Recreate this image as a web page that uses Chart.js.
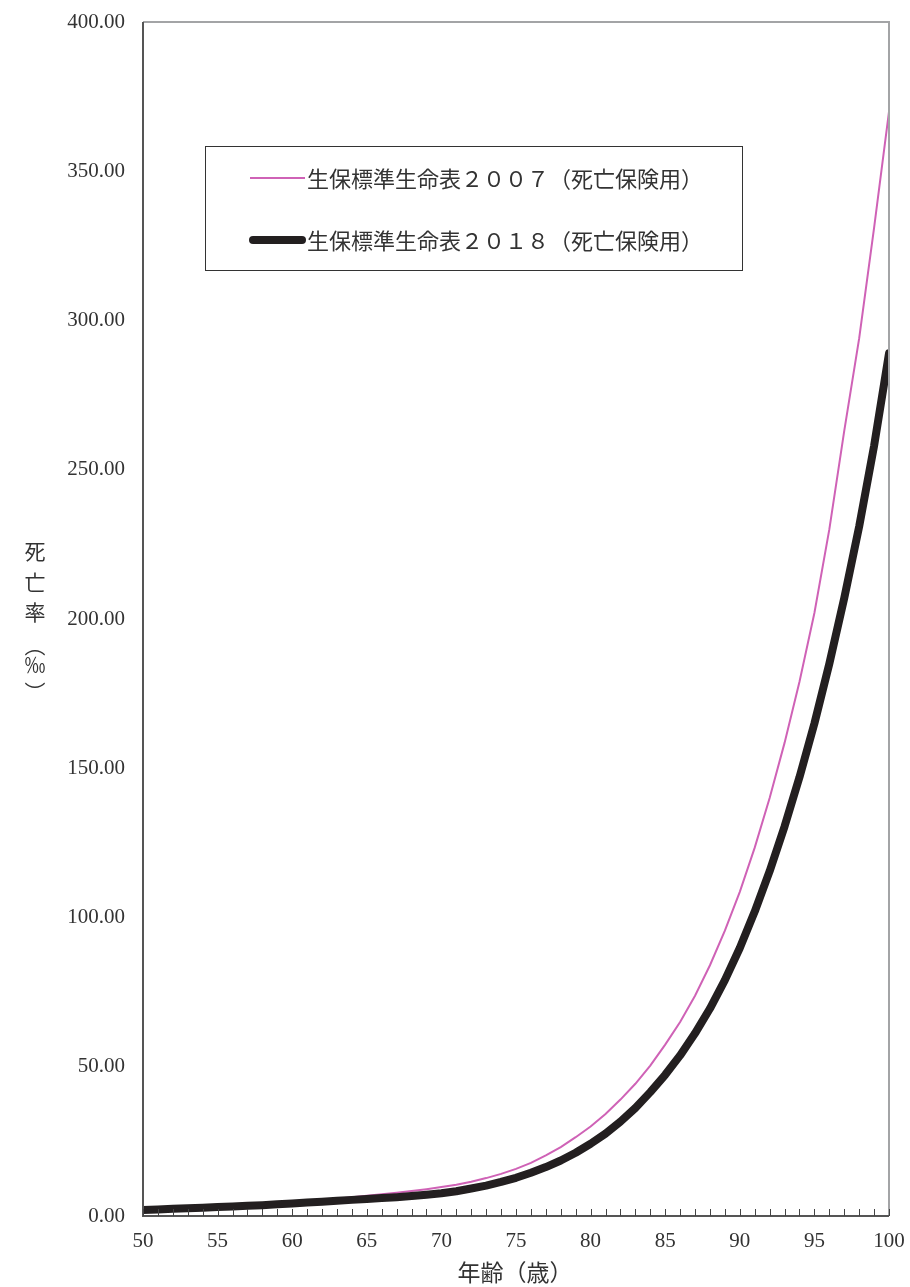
<!DOCTYPE html>
<html>
<head>
<meta charset="utf-8">
<script src="https://cdn.jsdelivr.net/npm/chart.js@4/dist/chart.umd.min.js"></script>
<style>
  html, body { margin: 0; padding: 0; background: #ffffff; }
  #wrap { width: 910px; height: 1287px; position: relative; }
</style>
</head>
<body>
<div id="wrap"><canvas id="c" width="910" height="1287"></canvas></div>
<script>
// ---- data ----
const ages = [50,51,52,53,54,55,56,57,58,59,60,61,62,63,64,65,66,67,68,69,70,
              71,72,73,74,75,76,77,78,79,80,81,82,83,84,85,86,87,88,89,90,
              91,92,93,94,95,96,97,98,99,100];
const rate2007 = [2.3,2.5,2.7,2.9,3.1,3.3,3.5,3.8,4.1,4.4,4.7,5.0,5.4,5.8,6.3,6.8,7.3,7.8,8.4,9.0,9.7,
                  10.5,11.5,12.7,14.1,15.8,17.8,20.3,23.1,26.4,30.0,34.2,39.0,44.3,50.4,57.4,65.0,73.8,84.0,95.6,108.6,
                  123.4,140.0,158.5,179.0,202.0,230.0,263.0,294.0,331.0,370.0];
const rate2018 = [2.0,2.2,2.4,2.6,2.8,3.0,3.2,3.4,3.6,3.9,4.2,4.5,4.8,5.1,5.4,5.7,6.0,6.3,6.7,7.1,7.6,
                  8.3,9.2,10.2,11.4,12.8,14.5,16.4,18.6,21.2,24.2,27.6,31.6,36.2,41.5,47.3,53.8,61.2,69.5,79.0,89.8,
                  102.0,115.5,130.5,147.0,165.0,185.0,207.0,231.0,258.0,289.0];
const seriesNames = ['生保標準生命表２００７（死亡保険用）', '生保標準生命表２０１８（死亡保険用）'];
const xTickLabels = [50,55,60,65,70,75,80,85,90,95,100];
const yTickValues = [0,50,100,150,200,250,300,350,400];
const yTitleChars = ['死','亡','率','︵','‰','︶'];
const xTitle = '年齢（歳）';

const PINK = '#cf62b6';
const BLACK = '#231f20';
const TEXT = '#333333';
const SERIF = '"Liberation Serif", "DejaVu Serif", serif';
const CJK = '"Noto Sans CJK JP", "Noto Sans", sans-serif';

const decor = {
  id: 'decor',
  afterDatasetsDraw(chart) {
    const ctx = chart.ctx;
    const a = chart.chartArea;
    const xs = chart.scales.x;
    ctx.save();
    // frame: top & right gray, left & bottom dark
    ctx.lineWidth = 2;
    ctx.strokeStyle = '#a3a4a6';
    ctx.beginPath();
    ctx.moveTo(a.left, a.top); ctx.lineTo(a.right, a.top); ctx.lineTo(a.right, a.bottom);
    ctx.stroke();
    ctx.strokeStyle = '#555555';
    ctx.beginPath();
    ctx.moveTo(a.left, a.top); ctx.lineTo(a.left, a.bottom); ctx.lineTo(a.right, a.bottom);
    ctx.stroke();
    // inner ticks on x axis, every year
    ctx.lineWidth = 1;
    ctx.strokeStyle = '#444444';
    ctx.beginPath();
    for (const t of xs.ticks) {
      const px = Math.round(xs.getPixelForValue(t.value)) + 0.5;
      ctx.moveTo(px, a.bottom);
      ctx.lineTo(px, a.bottom - 7);
    }
    ctx.stroke();

    // legend box
    ctx.strokeStyle = '#333333';
    ctx.lineWidth = 1;
    ctx.strokeRect(205.5, 146.5, 537, 124);
    ctx.font = '22px ' + CJK;
    ctx.fillStyle = TEXT;
    ctx.textBaseline = 'middle';
    ctx.textAlign = 'left';
    const ds = chart.data.datasets;
    const rows = [178, 240];
    ds.forEach((d, i) => {
      ctx.strokeStyle = d.borderColor;
      ctx.lineWidth = d.borderWidth;
      ctx.lineCap = i === 1 ? 'round' : 'butt';
      ctx.beginPath();
      ctx.moveTo(i === 1 ? 253 : 250, rows[i]);
      ctx.lineTo(i === 1 ? 302 : 305, rows[i]);
      ctx.stroke();
      ctx.fillText(d.label, 307, rows[i] + 1);
    });

    // y title (vertical stacked)
    ctx.font = '21px ' + CJK;
    ctx.textAlign = 'center';
    ctx.fillStyle = TEXT;
    const ys = [551, 582, 612, 645, 664, 692];
    yTitleChars.forEach((ch, i) => ctx.fillText(ch, 35, ys[i]));

    // x title
    ctx.font = '23px ' + CJK;
    ctx.fillText(xTitle, 515, 1272);
    ctx.restore();
  }
};

new Chart(document.getElementById('c'), {
  type: 'line',
  data: {
    datasets: [
      {
        label: seriesNames[0],
        data: ages.map((a, i) => ({ x: a, y: rate2007[i] })),
        borderColor: PINK,
        backgroundColor: PINK,
        borderWidth: 2,
        pointRadius: 0,
        tension: 0,
        order: 2
      },
      {
        label: seriesNames[1],
        data: ages.map((a, i) => ({ x: a, y: rate2018[i] })),
        borderColor: BLACK,
        backgroundColor: BLACK,
        borderWidth: 8,
        borderCapStyle: 'round',
        borderJoinStyle: 'round',
        pointRadius: 0,
        tension: 0,
        order: 1
      }
    ]
  },
  options: {
    responsive: false,
    animation: false,
    devicePixelRatio: 1,
    layout: { padding: { left: 0, right: 21, top: 22, bottom: 0 } },
    plugins: { legend: { display: false }, tooltip: { enabled: false } },
    scales: {
      x: {
        type: 'linear',
        min: 50, max: 100,
        grid: { display: false, drawTicks: false },
        border: { display: false },
        ticks: {
          stepSize: 1,
          autoSkip: false,
          maxRotation: 0,
          padding: 13,
          color: TEXT,
          font: { family: SERIF, size: 21 },
          callback: v => xTickLabels.includes(v) ? String(v) : ''
        },
        afterFit: s => { s.height = 71; s.paddingLeft = 0; s.paddingRight = 0; }
      },
      y: {
        min: 0, max: 400,
        grid: { display: false, drawTicks: false },
        border: { display: false },
        ticks: {
          stepSize: 50,
          padding: 18,
          color: TEXT,
          font: { family: SERIF, size: 21 },
          callback: v => yTickValues.includes(v) ? v.toFixed(2) : ''
        },
        afterFit: s => { s.width = 143; s.paddingTop = 0; s.paddingBottom = 0; }
      }
    }
  },
  plugins: [decor]
});
</script>
</body>
</html>
